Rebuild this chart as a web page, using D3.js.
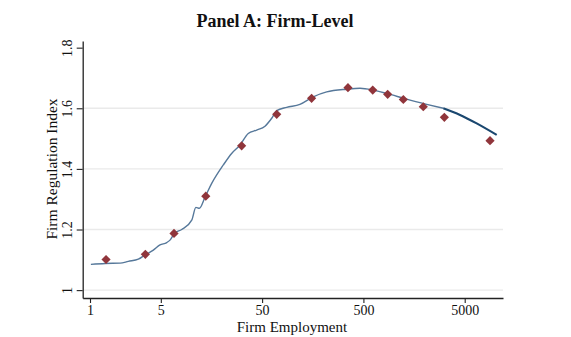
<!DOCTYPE html>
<html><head><meta charset="utf-8">
<script src="https://cdn.jsdelivr.net/npm/d3@7"></script>
<style>body{margin:0;background:#fff}svg{display:block}text{font-family:"Liberation Serif","DejaVu Serif",serif;fill:#111}</style>
</head><body><svg id="c" width="571" height="337"></svg>
<script>
// Binned scatter points (firm employment, regulation index)
const binEmployment = [1.44, 3.52, 6.75, 13.9, 31.4, 69.7, 154, 352, 618, 868, 1239, 1950, 3148, 8890];
const binIndex = [1.101, 1.118, 1.187, 1.310, 1.476, 1.580, 1.633, 1.668, 1.660, 1.646, 1.629, 1.605, 1.570, 1.493];
// Smoothed fit (light part)
const fitEmployment = [1.02, 1.41, 1.98, 2.39, 3.00, 3.49, 4.22, 4.91, 5.72, 6.16, 6.80, 8.04, 10.1, 11.1, 12.0, 13.7, 15.9, 20.7, 25.0, 30.3, 36.5, 44.2, 53.4, 62.2, 69.7, 87.4, 118, 160, 217, 342, 463, 626, 849, 1337, 2108, 3073];
const fitIndex = [1.085, 1.088, 1.089, 1.095, 1.102, 1.116, 1.132, 1.149, 1.157, 1.165, 1.187, 1.200, 1.231, 1.273, 1.270, 1.308, 1.352, 1.413, 1.451, 1.479, 1.517, 1.528, 1.541, 1.567, 1.592, 1.603, 1.613, 1.638, 1.654, 1.663, 1.666, 1.660, 1.649, 1.630, 1.613, 1.600];
// Extrapolated fit (dark part)
const extEmployment = [3073, 4497, 6565, 10350];
const extIndex = [1.600, 1.578, 1.550, 1.512];
const xTicks = [1, 5, 50, 500, 5000];
const yTicks = [1, 1.2, 1.4, 1.6, 1.8];
const yGrid = [1, 1.2, 1.4, 1.6];

const svg = d3.select("#c");
const x = d3.scaleLog().domain([0.847, 11940]).range([82.7, 503]);
const y = d3.scaleLinear().domain([0.974, 1.822]).range([298, 41]);

// gridlines
svg.append("g").selectAll("line").data(yGrid).join("line")
  .attr("x1", 83.5).attr("x2", 503).attr("y1", d => y(d)).attr("y2", d => y(d))
  .attr("stroke", "#eaeaea").attr("stroke-width", 1.4);

// axes
const xAxis = svg.append("g").attr("transform", "translate(0,298)")
  .call(d3.axisBottom(x).tickValues(xTicks).tickFormat(d3.format("d")).tickSize(5).tickSizeOuter(0).tickPadding(3));
const yAxis = svg.append("g").attr("transform", "translate(82.7,0)")
  .call(d3.axisLeft(y).tickValues(yTicks).tickFormat(d => d3.format("")(d)).tickSize(6).tickSizeOuter(0));
[xAxis, yAxis].forEach(a => {
  a.select(".domain").attr("stroke", "#222").attr("stroke-width", 1.3);
  a.selectAll(".tick line").attr("stroke", "#222").attr("stroke-width", 1.1);
  a.selectAll("text").attr("font-size", 14).attr("fill", "#111")
    .style("font-family", '"Liberation Serif", serif');
});
xAxis.selectAll(".tick text").attr("dy", "0.62em");
yAxis.selectAll(".tick text")
  .attr("transform", "rotate(-90)").attr("x", 0).attr("y", -10.5).attr("dy", 0)
  .attr("text-anchor", "middle");

// lines
const line = d3.line().x(d => x(d[0])).y(d => y(d[1])).curve(d3.curveMonotoneX);
svg.append("path").datum(fitEmployment.map((e, i) => [e, fitIndex[i]]))
  .attr("d", line).attr("fill", "none").attr("stroke", "#56789a").attr("stroke-width", 1.4);
svg.append("path").datum(extEmployment.map((e, i) => [e, extIndex[i]]))
  .attr("d", line).attr("fill", "none").attr("stroke", "#1a476f").attr("stroke-width", 2.1);

// diamonds
svg.append("g").selectAll("path").data(binEmployment.map((e, i) => [e, binIndex[i]])).join("path")
  .attr("transform", d => `translate(${x(d[0])},${y(d[1])})`)
  .attr("d", "M0,-4.6L4.6,0L0,4.6L-4.6,0Z").attr("fill", "#90353b");

// titles
svg.append("text").attr("x", 275).attr("y", 26.5).attr("text-anchor", "middle")
  .attr("font-size", 18).attr("font-weight", "bold").text("Panel A: Firm-Level");
svg.append("text").attr("x", 292).attr("y", 331.5).attr("text-anchor", "middle")
  .attr("font-size", 15).text("Firm Employment");
svg.append("text").attr("transform", "translate(56.5,169) rotate(-90)").attr("text-anchor", "middle")
  .attr("font-size", 15.5).text("Firm Regulation Index");
</script></body></html>
